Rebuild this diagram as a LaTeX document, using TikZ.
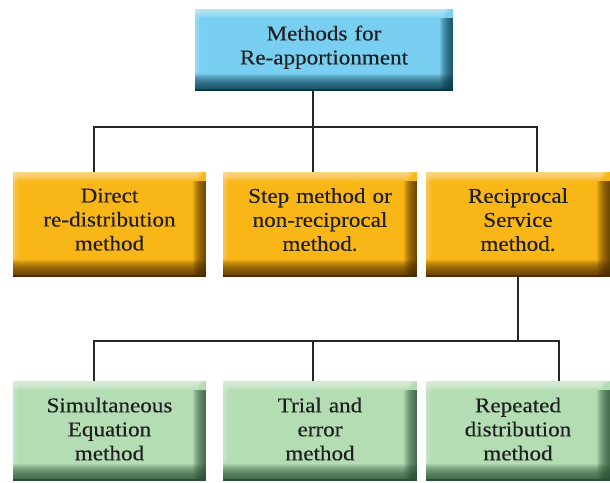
\documentclass[tikz,border=0pt]{standalone}
\usepackage{fontspec}
\setmainfont{Liberation Serif}[FakeStretch=1.1, FakeBold=0.3]
\usepackage{tikz}
\usetikzlibrary{calc}

\definecolor{bluebody}{HTML}{78CFF1}
\definecolor{bluelight}{HTML}{D2F0FC}
\definecolor{bluedark}{HTML}{06384A}
\definecolor{orangebody}{HTML}{F8B617}
\definecolor{orangelight}{HTML}{FDE6B8}
\definecolor{orangedark}{HTML}{4A2A00}
\definecolor{greenbody}{HTML}{B4DDB4}
\definecolor{greenlight}{HTML}{EAF6EA}
\definecolor{greendark}{HTML}{2A5034}

\tikzset{
  bevel/.style n args={3}{rectangle, inner sep=0pt, align=center, fill=#1,
    font=\fontsize{21}{24}\selectfont, text=black!88,
    path picture={
      \coordinate (pnw) at (path picture bounding box.north west);
      \coordinate (pse) at (path picture bounding box.south east);
      % dark right and bottom edges, built up strip by strip
      \foreach \k in {1,...,13}
        \fill[#3, opacity=0.1] ($(pnw-|pse)+(-\k pt,-9pt)$) rectangle (pse);
      \foreach \k in {1,...,17}
        \fill[#3, opacity=0.09] ($(pnw|-pse)+(0,\k pt)$) rectangle (pse);
      \fill[#3] (pnw|-pse) rectangle ($(pse)+(0,2pt)$);
      % light top and left edges
      \foreach \k in {1,...,9}
        \fill[#2, opacity=0.12] (pnw) rectangle ($(pnw-|pse)+(-\k pt,-\k pt)$);
      \foreach \k in {1,...,6}
        \fill[#2, opacity=0.08] (pnw) rectangle ($(pnw|-pse)+(\k pt,\k pt+14pt)$);
    }},
  headbox/.style={bevel={bluebody}{bluelight}{bluedark}, minimum width=258pt, minimum height=82pt, text width=238pt},
  methodbox/.style={bevel={orangebody}{orangelight}{orangedark}, minimum height=105pt, text width=#1pt-20pt, minimum width=#1pt},
  waybox/.style={bevel={greenbody}{greenlight}{greendark}, minimum height=100pt, text width=#1pt-20pt, minimum width=#1pt},
  link/.style={line width=1.8pt, black!85},
}

\begin{document}
\begin{tikzpicture}[x=1pt, y=-1pt]
\useasboundingbox (0,0) rectangle (610,482);

\node[headbox] (top) at (324,50) {Methods for\\Re-apportionment\\[-14pt]\mbox{}};

\node[methodbox=193] (direct) at (109.5,224.5) {Direct\\re-distribution\\method\\[-14pt]\mbox{}};
\node[methodbox=194] (step)   at (320,224.5)   {Step method or\\non-reciprocal\\method.\\[-14pt]\mbox{}};
\node[methodbox=184] (recip)  at (518,224.5)   {Reciprocal\\Service\\method.\\[-14pt]\mbox{}};

\node[waybox=193] (simul)  at (109.5,431) {Simultaneous\\Equation\\method\\[-20pt]\mbox{}};
\node[waybox=194] (trial)  at (320,431)   {Trial and\\error\\method\\[-20pt]\mbox{}};
\node[waybox=184] (repeat) at (518,431)   {Repeated\\distribution\\method\\[-20pt]\mbox{}};

% upper tree
\coordinate (hub) at (313,127);
\draw[link] (top.south -| hub) -- (hub);
\draw[link] ([xshift=-15.5pt]direct.north) |- (hub) -| ([xshift=19pt]recip.north);
\draw[link] (hub) -- (hub |- step.north);

% lower tree
\coordinate (hubb) at (518,341);
\draw[link] (recip.south) -- (hubb);
\draw[link] ([xshift=-15.5pt]simul.north) |- (hubb) -| ([xshift=41pt]repeat.north);
\draw[link] (hub |- hubb) -- (hub |- trial.north);
\end{tikzpicture}
\end{document}
